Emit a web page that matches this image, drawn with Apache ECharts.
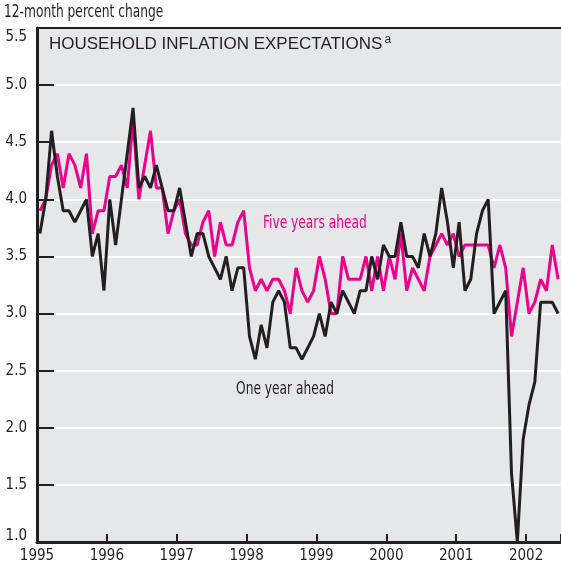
<!DOCTYPE html>
<html lang="en">
<head>
    <meta charset="utf-8">
    <title>Household inflation expectations</title>
    <script src="https://cdn.jsdelivr.net/npm/echarts@6/dist/echarts.min.js"></script>
    <style>
        html, body { margin: 0; padding: 0; background: #ffffff; }
        #chart { width: 561px; height: 571px; }
    </style>
</head>
<body>
<div id="chart"></div>
<script>
    // monthly survey values, Jan 1995 - Jun 2002
    var startYear = 1995;
    var yearTicks = [1995, 1996, 1997, 1998, 1999, 2000, 2001, 2002];

    var oneYearAhead = [
        3.7, 4.0, 4.6, 4.2, 3.9, 3.9, 3.8, 3.9, 4.0, 3.5, 3.7, 3.2,
        4.0, 3.6, 4.0, 4.4, 4.8, 4.1, 4.2, 4.1, 4.3, 4.1, 3.9, 3.9,
        4.1, 3.8, 3.5, 3.7, 3.7, 3.5, 3.4, 3.3, 3.5, 3.2, 3.4, 3.4,
        2.8, 2.6, 2.9, 2.7, 3.1, 3.2, 3.1, 2.7, 2.7, 2.6, 2.7, 2.8,
        3.0, 2.8, 3.1, 3.0, 3.2, 3.1, 3.0, 3.2, 3.2, 3.5, 3.3, 3.6,
        3.5, 3.5, 3.8, 3.5, 3.5, 3.4, 3.7, 3.5, 3.7, 4.1, 3.8, 3.4,
        3.8, 3.2, 3.3, 3.7, 3.9, 4.0, 3.0, 3.1, 3.2, 1.6, 1.0, 1.9,
        2.2, 2.4, 3.1, 3.1, 3.1, 3.0
    ];

    var fiveYearsAhead = [
        3.9, 4.0, 4.3, 4.4, 4.1, 4.4, 4.3, 4.1, 4.4, 3.7, 3.9, 3.9,
        4.2, 4.2, 4.3, 4.1, 4.7, 4.0, 4.3, 4.6, 4.1, 4.1, 3.7, 3.9,
        4.0, 3.7, 3.6, 3.6, 3.8, 3.9, 3.5, 3.8, 3.6, 3.6, 3.8, 3.9,
        3.4, 3.2, 3.3, 3.2, 3.3, 3.3, 3.2, 3.0, 3.4, 3.2, 3.1, 3.2,
        3.5, 3.3, 3.0, 3.0, 3.5, 3.3, 3.3, 3.3, 3.5, 3.2, 3.5, 3.2,
        3.5, 3.3, 3.7, 3.2, 3.4, 3.3, 3.2, 3.5, 3.6, 3.7, 3.6, 3.7,
        3.5, 3.6, 3.6, 3.6, 3.6, 3.6, 3.4, 3.6, 3.4, 2.8, 3.1, 3.4,
        3.0, 3.1, 3.3, 3.2, 3.6, 3.3
    ];

    var pink = '#ec008c';
    var ink = '#231f20';
    var narrow = '"DejaVu Sans Condensed", "DejaVu Sans", sans-serif';
    var plain = '"Liberation Sans", Arial, sans-serif';

    // place each month in the middle of its slot
    function toPoints(values) {
        var pts = [];
        for (var i = 0; i < values.length; i++) {
            pts.push([startYear + (i + 0.5) / 12, values[i]]);
        }
        return pts;
    }

    // condensed-looking text: squeeze a normal font horizontally
    function squeezedText(txt, x, y, color) {
        return {
            type: 'text',
            x: x,
            y: y,
            scaleX: 0.8,
            style: {text: txt, fill: color, fontFamily: narrow, fontSize: 17}
        };
    }

    var chart = echarts.init(document.getElementById('chart'), null, {renderer: 'canvas'});

    var option = {
        animation: false,
        backgroundColor: '#ffffff',
        title: {
            text: '{m|HOUSEHOLD INFLATION EXPECTATIONS}{s|a}',
            left: 49,
            top: 34,
            padding: 0,
            textStyle: {
                fontWeight: 'normal',
                rich: {
                    m: {fontFamily: plain, fontSize: 17, fontWeight: 'normal', color: ink, lineHeight: 20},
                    s: {fontFamily: plain, fontSize: 12, fontWeight: 'normal', color: ink, verticalAlign: 'top', padding: [0, 0, 0, 2]}
                }
            }
        },
        grid: {
            left: 37,
            right: 0,
            top: 28,
            bottom: 29,
            show: true,
            backgroundColor: '#e6e7e8',
            borderWidth: 0,
            containLabel: false,
            outerBoundsMode: 'none'
        },
        xAxis: [
            {
                type: 'value',
                min: yearTicks[0],
                max: 2002.5,
                interval: 1,
                axisLine: {show: true, lineStyle: {color: ink, width: 3}},
                axisTick: {show: true, inside: true, length: 8, lineStyle: {color: ink, width: 2}},
                splitLine: {show: false},
                axisLabel: {
                    margin: 7,
                    fontFamily: narrow,
                    fontSize: 15,
                    color: ink,
                    formatter: function (v) {
                        return yearTicks.indexOf(v) >= 0 ? String(v) : '';
                    }
                }
            },
            {
                // top frame line
                type: 'value',
                position: 'top',
                min: yearTicks[0],
                max: 2002.5,
                axisLine: {show: true, onZero: false, lineStyle: {color: ink, width: 2}},
                axisTick: {show: false},
                axisLabel: {show: false},
                splitLine: {show: false}
            }
        ],
        yAxis: {
            type: 'value',
            min: 1,
            max: 5.5,
            interval: 0.5,
            axisLine: {show: true, lineStyle: {color: ink, width: 3}},
            axisTick: {show: true, inside: true, length: 17, lineStyle: {color: ink, width: 2}},
            splitLine: {show: true, lineStyle: {color: '#ffffff', width: 2}},
            axisLabel: {
                margin: 10,
                fontFamily: narrow,
                fontSize: 15,
                color: ink,
                formatter: function (v) {
                    if (v === 5.5) return '{top|5.5}';
                    if (v === 1) return '{bot|1.0}';
                    return v.toFixed(1);
                },
                rich: {
                    top: {fontFamily: narrow, fontSize: 15, color: ink, padding: [18, 0, 0, 0]},
                    bot: {fontFamily: narrow, fontSize: 15, color: ink, padding: [0, 0, 12, 0]}
                }
            }
        },
        graphic: [
            squeezedText('12-month percent change', 4, 4, ink),
            squeezedText('Five years ahead', 263, 215, pink),
            squeezedText('One year ahead', 236, 381, ink)
        ],
        series: [
            {
                name: 'Five years ahead',
                type: 'line',
                data: toPoints(fiveYearsAhead),
                showSymbol: false,
                lineStyle: {color: pink, width: 3},
                itemStyle: {color: pink}
            },
            {
                name: 'One year ahead',
                type: 'line',
                data: toPoints(oneYearAhead),
                showSymbol: false,
                lineStyle: {color: ink, width: 3},
                itemStyle: {color: ink}
            }
        ]
    };

    chart.setOption(option);
</script>
</body>
</html>
